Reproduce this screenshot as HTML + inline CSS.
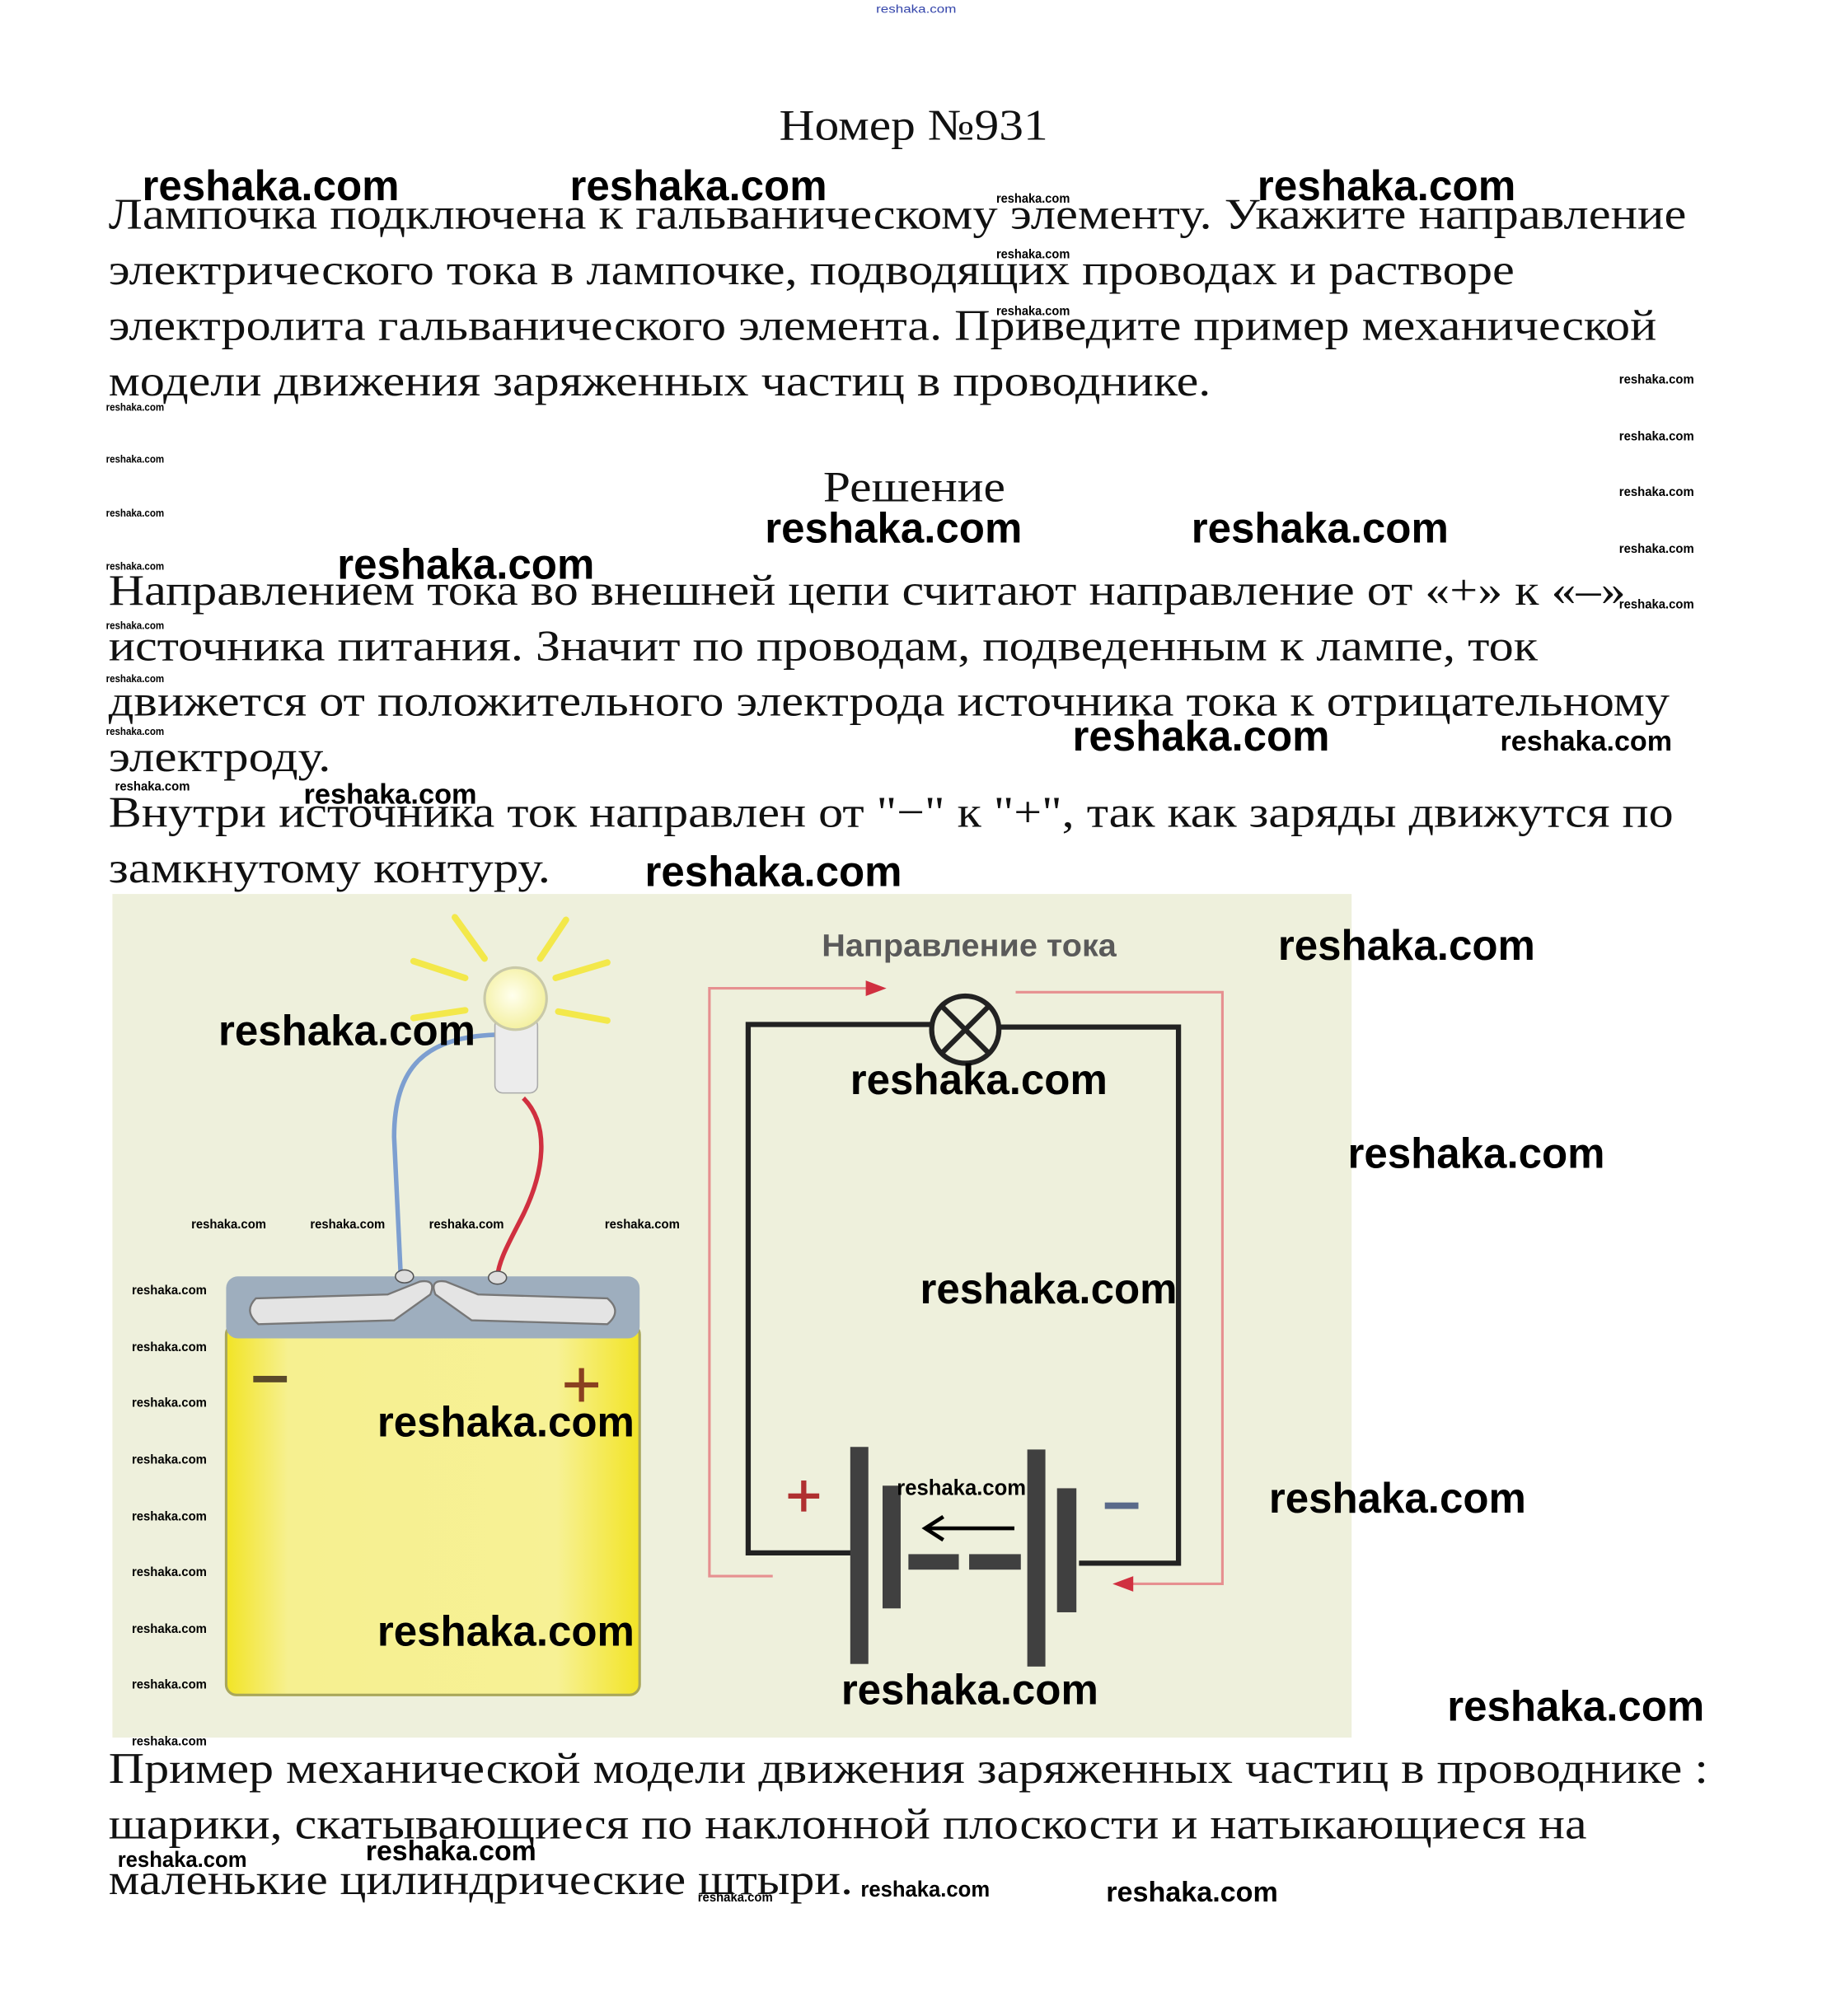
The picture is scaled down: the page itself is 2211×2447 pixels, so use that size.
<!DOCTYPE html>
<html><head><meta charset="utf-8"><style>
html,body{margin:0;padding:0;background:#fff;width:2211px;height:2447px;overflow:hidden}
svg{display:block}
.t{font-family:"Liberation Serif","Noto Serif CJK SC",serif;font-size:34px;fill:#111}
.w{font-family:"Liberation Sans","DejaVu Sans",sans-serif;font-weight:bold;fill:#000}
</style></head><body>
<svg width="2211" height="2447" viewBox="0 0 1410 1560.5" xmlns="http://www.w3.org/2000/svg">
<defs>
<linearGradient id="bat" x1="0" x2="1" y1="0" y2="0">
<stop offset="0" stop-color="#f2e425"/><stop offset="0.15" stop-color="#f6f090"/><stop offset="0.8" stop-color="#f7f195"/><stop offset="1" stop-color="#f2e425"/>
</linearGradient>
<radialGradient id="glass" cx="0.45" cy="0.45" r="0.6"><stop offset="0" stop-color="#ffffee"/><stop offset="1" stop-color="#f3ef9a"/></radialGradient>
</defs>
<rect width="1410" height="1560.5" fill="#fff"/>
<text x="678" y="10" font-family="Liberation Sans,sans-serif" font-size="9" fill="#3344aa" textLength="62" lengthAdjust="spacingAndGlyphs">reshaka.com</text>

<text class="t" x="603" y="108" font-size="36" textLength="208" lengthAdjust="spacingAndGlyphs">Номер №931</text>
<text class="t" x="84" y="177" textLength="1221" lengthAdjust="spacingAndGlyphs">Лампочка подключена к гальваническому элементу. Укажите направление</text>
<text class="t" x="84" y="220" textLength="1088" lengthAdjust="spacingAndGlyphs">электрического тока в лампочке, подводящих проводах и растворе</text>
<text class="t" x="84" y="263" textLength="1198" lengthAdjust="spacingAndGlyphs">электролита гальванического элемента. Приведите пример механической</text>
<text class="t" x="84" y="306" textLength="853" lengthAdjust="spacingAndGlyphs">модели движения заряженных частиц в проводнике.</text>
<text class="t" x="637" y="388" textLength="141" lengthAdjust="spacingAndGlyphs">Решение</text>
<text class="t" x="84" y="468" textLength="1174" lengthAdjust="spacingAndGlyphs">Направлением тока во внешней цепи считают направление от «+» к «–»</text>
<text class="t" x="84" y="511" textLength="1106" lengthAdjust="spacingAndGlyphs">источника питания. Значит по проводам, подведенным к лампе, ток</text>
<text class="t" x="84" y="554" textLength="1208" lengthAdjust="spacingAndGlyphs">движется от положительного электрода источника тока к отрицательному</text>
<text class="t" x="84" y="597" textLength="172" lengthAdjust="spacingAndGlyphs">электроду.</text>
<text class="t" x="84" y="640" textLength="1211" lengthAdjust="spacingAndGlyphs">Внутри источника ток направлен от "−" к "+", так как заряды движутся по</text>
<text class="t" x="84" y="683" textLength="342" lengthAdjust="spacingAndGlyphs">замкнутому контуру.</text>

<!-- diagram -->
<rect x="87" y="692" width="959" height="653" fill="#eef0dc"/>
<!-- rays -->
<g stroke="#f3e84a" stroke-width="5" stroke-linecap="round">
<line x1="352" y1="710" x2="375" y2="742"/>
<line x1="438" y1="712" x2="418" y2="742"/>
<line x1="320" y1="744" x2="360" y2="757"/>
<line x1="470" y1="745" x2="430" y2="757"/>
<line x1="470" y1="790" x2="432" y2="783"/>
<line x1="320" y1="788" x2="360" y2="782"/>
</g>
<path d="M383,801 C330,803 305,825 305,880 L310,985" fill="none" stroke="#7d9fd0" stroke-width="3.5"/>
<path d="M405,850 C425,870 422,905 405,940 C395,960 386,975 385,988" fill="none" stroke="#d03040" stroke-width="3.5"/>
<rect x="383" y="788" width="33" height="58" rx="6" fill="#ececec" stroke="#aaa"/>
<circle cx="399" cy="773" r="24" fill="url(#glass)" stroke="#c9c9a8" stroke-width="2"/>
<!-- battery -->
<rect x="175" y="1025" width="320" height="287" rx="8" fill="url(#bat)" stroke="#a9a75a" stroke-width="2"/>
<rect x="175" y="988" width="320" height="48" rx="9" fill="#9eaebe"/>
<path d="M198,1005 L300,1002 L325,992 Q338,990 333,1002 L305,1022 L200,1025 Q188,1015 198,1005Z" fill="#e4e4e4" stroke="#777" stroke-width="1.5"/>
<path d="M470,1005 L370,1002 L345,992 Q332,990 337,1002 L365,1022 L470,1025 Q482,1015 470,1005Z" fill="#e4e4e4" stroke="#777" stroke-width="1.5"/>
<ellipse cx="313" cy="988" rx="7" ry="5" fill="#ddd" stroke="#555"/>
<ellipse cx="385" cy="989" rx="7" ry="5" fill="#ddd" stroke="#555"/>
<rect x="196" y="1065" width="26" height="5" fill="#5a4a2a"/>
<rect x="437" y="1070" width="26" height="4" fill="#8a4020"/><rect x="448" y="1059" width="4" height="26" fill="#8a4020"/>
<!-- circuit -->
<text x="636" y="740" font-family="Liberation Sans,sans-serif" font-weight="bold" font-size="24" fill="#5a5a5a" textLength="228" lengthAdjust="spacingAndGlyphs">Направление тока</text>
<g fill="none" stroke="#e69090" stroke-width="2">
<polyline points="598,1220 549,1220 549,765 680,765"/>
<polyline points="786,768 946,768 946,1226 870,1226"/>
</g>
<path d="M670,759 L686,765 L670,771Z" fill="#d03040"/>
<path d="M877,1220 L861,1226 L877,1232Z" fill="#d03040"/>
<g fill="none" stroke="#222" stroke-width="4">
<polyline points="660,1202 579,1202 579,793 721,793"/>
<polyline points="773,795 912,795 912,1210 835,1210"/>
<circle cx="747" cy="797" r="26"/>
<line x1="729" y1="779" x2="765" y2="815"/><line x1="765" y1="779" x2="729" y2="815"/>
</g>
<g fill="#404040">
<rect x="658" y="1120" width="14" height="168"/>
<rect x="683" y="1150" width="14" height="95"/>
<rect x="703" y="1203" width="39" height="12"/>
<rect x="750" y="1203" width="40" height="12"/>
<rect x="795" y="1122" width="14" height="168"/>
<rect x="818" y="1152" width="15" height="96"/>
</g>
<line x1="785" y1="1183" x2="718" y2="1183" stroke="#000" stroke-width="3"/>
<path d="M730,1174 L716,1183 L730,1192" fill="none" stroke="#000" stroke-width="3"/>
<rect x="610" y="1156" width="24" height="4" fill="#b03030"/><rect x="620" y="1146" width="4" height="24" fill="#b03030"/>
<rect x="855" y="1163" width="26" height="5" fill="#5a6a8a"/>

<text class="t" x="84" y="1380" textLength="1238" lengthAdjust="spacingAndGlyphs">Пример механической модели движения заряженных частиц в проводнике :</text>
<text class="t" x="84" y="1423" textLength="1144" lengthAdjust="spacingAndGlyphs">шарики, скатывающиеся по наклонной плоскости и натыкающиеся на</text>
<text class="t" x="84" y="1466" textLength="576" lengthAdjust="spacingAndGlyphs">маленькие цилиндрические штыри.</text>

<!-- watermarks big -->
<g class="w" font-size="33">
<text x="110" y="155" textLength="199" lengthAdjust="spacingAndGlyphs">reshaka.com</text>
<text x="441" y="155" textLength="199" lengthAdjust="spacingAndGlyphs">reshaka.com</text>
<text x="973" y="155" textLength="200" lengthAdjust="spacingAndGlyphs">reshaka.com</text>
<text x="592" y="420" textLength="199" lengthAdjust="spacingAndGlyphs">reshaka.com</text>
<text x="922" y="420" textLength="199" lengthAdjust="spacingAndGlyphs">reshaka.com</text>
<text x="261" y="448" textLength="199" lengthAdjust="spacingAndGlyphs">reshaka.com</text>
<text x="830" y="581" textLength="199" lengthAdjust="spacingAndGlyphs">reshaka.com</text>
<text x="499" y="686" textLength="199" lengthAdjust="spacingAndGlyphs">reshaka.com</text>
<text x="989" y="743" textLength="199" lengthAdjust="spacingAndGlyphs">reshaka.com</text>
<text x="169" y="809" textLength="199" lengthAdjust="spacingAndGlyphs">reshaka.com</text>
<text x="658" y="847" textLength="199" lengthAdjust="spacingAndGlyphs">reshaka.com</text>
<text x="1043" y="904" textLength="199" lengthAdjust="spacingAndGlyphs">reshaka.com</text>
<text x="712" y="1009" textLength="199" lengthAdjust="spacingAndGlyphs">reshaka.com</text>
<text x="292" y="1112" textLength="199" lengthAdjust="spacingAndGlyphs">reshaka.com</text>
<text x="982" y="1171" textLength="199" lengthAdjust="spacingAndGlyphs">reshaka.com</text>
<text x="292" y="1274" textLength="199" lengthAdjust="spacingAndGlyphs">reshaka.com</text>
<text x="651" y="1319" textLength="199" lengthAdjust="spacingAndGlyphs">reshaka.com</text>
<text x="1120" y="1332" textLength="199" lengthAdjust="spacingAndGlyphs">reshaka.com</text>
</g>
<g class="w" font-size="22">
<text x="1161" y="581" textLength="133" lengthAdjust="spacingAndGlyphs">reshaka.com</text>
<text x="235" y="622" textLength="134" lengthAdjust="spacingAndGlyphs">reshaka.com</text>
<text x="283" y="1440" textLength="132" lengthAdjust="spacingAndGlyphs">reshaka.com</text>
<text x="856" y="1472" textLength="133" lengthAdjust="spacingAndGlyphs">reshaka.com</text>
</g>
<g class="w" font-size="17" font-weight="normal">
<text x="694" y="1157" textLength="100" lengthAdjust="spacingAndGlyphs">reshaka.com</text>
<text x="91" y="1445" textLength="100" lengthAdjust="spacingAndGlyphs">reshaka.com</text>
<text x="666" y="1468" textLength="100" lengthAdjust="spacingAndGlyphs">reshaka.com</text>
</g>
<g class="w" font-size="10">
<text x="771" y="157" textLength="57" lengthAdjust="spacingAndGlyphs">reshaka.com</text>
<text x="771" y="200" textLength="57" lengthAdjust="spacingAndGlyphs">reshaka.com</text>
<text x="771" y="244" textLength="57" lengthAdjust="spacingAndGlyphs">reshaka.com</text>
<text x="1253" y="297" textLength="58" lengthAdjust="spacingAndGlyphs">reshaka.com</text>
<text x="1253" y="341" textLength="58" lengthAdjust="spacingAndGlyphs">reshaka.com</text>
<text x="1253" y="384" textLength="58" lengthAdjust="spacingAndGlyphs">reshaka.com</text>
<text x="1253" y="428" textLength="58" lengthAdjust="spacingAndGlyphs">reshaka.com</text>
<text x="1253" y="471" textLength="58" lengthAdjust="spacingAndGlyphs">reshaka.com</text>
<text x="89" y="612" textLength="58" lengthAdjust="spacingAndGlyphs">reshaka.com</text>
<text x="148" y="951" textLength="58" lengthAdjust="spacingAndGlyphs">reshaka.com</text>
<text x="240" y="951" textLength="58" lengthAdjust="spacingAndGlyphs">reshaka.com</text>
<text x="332" y="951" textLength="58" lengthAdjust="spacingAndGlyphs">reshaka.com</text>
<text x="468" y="951" textLength="58" lengthAdjust="spacingAndGlyphs">reshaka.com</text>
<text x="102" y="1002" textLength="58" lengthAdjust="spacingAndGlyphs">reshaka.com</text>
<text x="102" y="1046" textLength="58" lengthAdjust="spacingAndGlyphs">reshaka.com</text>
<text x="102" y="1089" textLength="58" lengthAdjust="spacingAndGlyphs">reshaka.com</text>
<text x="102" y="1133" textLength="58" lengthAdjust="spacingAndGlyphs">reshaka.com</text>
<text x="102" y="1177" textLength="58" lengthAdjust="spacingAndGlyphs">reshaka.com</text>
<text x="102" y="1220" textLength="58" lengthAdjust="spacingAndGlyphs">reshaka.com</text>
<text x="102" y="1264" textLength="58" lengthAdjust="spacingAndGlyphs">reshaka.com</text>
<text x="102" y="1307" textLength="58" lengthAdjust="spacingAndGlyphs">reshaka.com</text>
<text x="102" y="1351" textLength="58" lengthAdjust="spacingAndGlyphs">reshaka.com</text>
<text x="540" y="1472" textLength="58" lengthAdjust="spacingAndGlyphs">reshaka.com</text>
</g>
<g class="w" font-size="8">
<text x="82" y="318" textLength="45" lengthAdjust="spacingAndGlyphs">reshaka.com</text>
<text x="82" y="358" textLength="45" lengthAdjust="spacingAndGlyphs">reshaka.com</text>
<text x="82" y="400" textLength="45" lengthAdjust="spacingAndGlyphs">reshaka.com</text>
<text x="82" y="441" textLength="45" lengthAdjust="spacingAndGlyphs">reshaka.com</text>
<text x="82" y="487" textLength="45" lengthAdjust="spacingAndGlyphs">reshaka.com</text>
<text x="82" y="528" textLength="45" lengthAdjust="spacingAndGlyphs">reshaka.com</text>
<text x="82" y="569" textLength="45" lengthAdjust="spacingAndGlyphs">reshaka.com</text>
</g>
</svg>
</body></html>
